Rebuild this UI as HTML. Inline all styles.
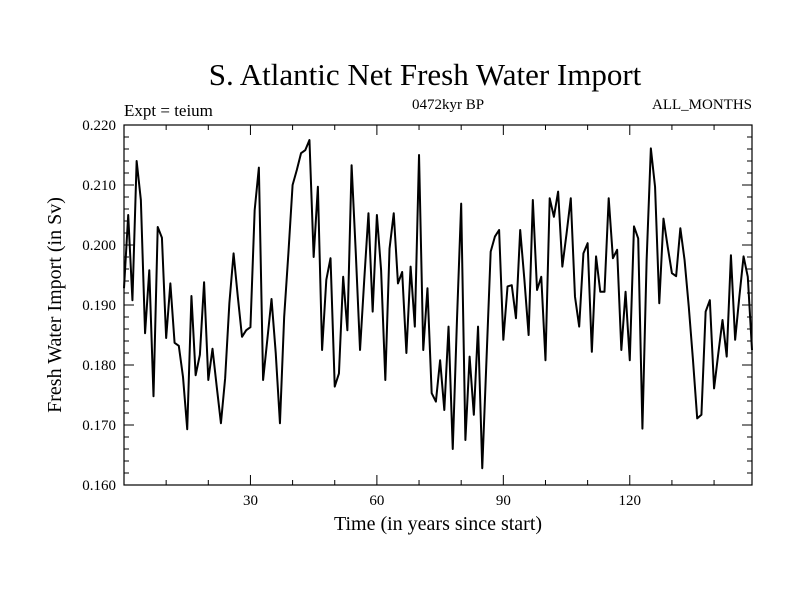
<!DOCTYPE html>
<html><head><meta charset="utf-8"><style>
body{margin:0;background:#fff;}
svg text{font-family:"Liberation Serif",serif;fill:#000;}
</style></head><body>
<svg id="c" width="800" height="600" xmlns="http://www.w3.org/2000/svg">
<text x="425" y="85" font-size="31" text-anchor="middle">S. Atlantic Net Fresh Water Import</text>
<text x="124" y="116" font-size="17">Expt = teium</text>
<text x="448" y="109" font-size="15" text-anchor="middle">0472kyr BP</text>
<text x="752" y="109" font-size="15" text-anchor="end">ALL_MONTHS</text>
<text x="438" y="530" font-size="20" text-anchor="middle">Time (in years since start)</text>
<text transform="translate(61,305) rotate(-90)" font-size="20" text-anchor="middle">Fresh Water Import (in Sv)</text>
<g id="axes"></g>
<path id="line" fill="none" stroke="#000" stroke-width="2" stroke-linejoin="round"></path>
<rect x="124" y="125" width="628" height="360" fill="none" stroke="#000" stroke-width="1.2"></rect>
</svg>
<script>
const values = [0.1928,0.205,0.1908,0.214,0.2075,0.1853,0.1958,0.1748,0.203,0.2012,0.1845,0.1936,0.1837,0.1832,0.178,0.1693,0.1915,0.1783,0.1817,0.1938,0.1775,0.1827,0.1764,0.1703,0.1778,0.1903,0.1986,0.1914,0.1847,0.1858,0.1863,0.2058,0.2129,0.1775,0.1842,0.191,0.182,
0.1703,0.188,0.1986,0.21,0.2125,0.2153,0.2158,0.2175,0.198,0.2097,0.1825,0.1942,0.1978,0.1764,0.1786,0.1947,0.1858,0.2133,0.1986,0.1825,0.1942,0.2053,0.1889,0.205,0.1958,0.1775,0.1994,0.2053,0.1936,0.1955,0.182,0.1964,0.1864,0.215,0.1825,0.1928,0.1753,0.1739,0.1808,0.1725,
0.1864,0.166,0.1875,0.2069,0.1675,0.1814,0.1717,0.1864,0.1628,0.1808,0.1989,0.2014,0.2025,0.1842,0.1931,0.1933,0.1878,0.2025,0.1942,0.185,0.2075,0.1925,0.1947,0.1808,0.2078,0.2047,0.2089,0.1964,0.2019,0.2078,0.1914,0.1864,0.1986,0.2003,0.1822,
0.1981,0.1922,0.1922,0.2078,0.1978,0.1992,0.1825,0.1922,0.1808,0.2031,0.2011,0.1694,0.1975,0.2161,0.2097,0.1903,0.2044,0.1997,0.1953,0.1948,0.2028,0.1975,0.1897,0.1808,0.1711,0.1717,0.1889,0.1908,0.1761,0.1819,0.1875,0.1814,0.1983,0.1842,0.1914,0.1981,0.1947,0.1825];
const xTicks = [30,60,90,120];
const yTicks = [0.160,0.170,0.180,0.190,0.200,0.210,0.220];
const xMin=0, xMax=149, yMin=0.16, yMax=0.22;
const L=124,R=752,T=125,B=485;
const sx=v=>L+(v-xMin)/(xMax-xMin)*(R-L);
const sy=v=>B-(v-yMin)/(yMax-yMin)*(B-T);
const NS="http://www.w3.org/2000/svg";
const g=document.getElementById('axes');
function ln(x1,y1,x2,y2,name){const e=document.createElementNS(NS,'line');e.setAttribute('x1',x1);e.setAttribute('y1',y1);e.setAttribute('x2',x2);e.setAttribute('y2',y2);e.setAttribute('stroke','#000');e.setAttribute('stroke-width','1');


g.appendChild(e);}
function tx(x,y,s,anchor,name){const e=document.createElementNS(NS,'text');e.setAttribute('x',x);e.setAttribute('y',y);e.setAttribute('font-size','15');e.setAttribute('text-anchor',anchor);e.textContent=s;


g.appendChild(e);}
for(let v=10;v<xMax;v+=10){const x=sx(v);const major=xTicks.includes(v);const l=major?10:5;
ln(x,B,x,B-l,'x-tick');ln(x,T,x,T+l,'x-tick-top');}
xTicks.forEach(v=>tx(sx(v),B+20,String(v),'middle','x-tick-label'));
for(let i=0;i<=30;i++){const v=yMin+i*0.002;const y=sy(v);const major=i%5===0;const l=major?10:5;
ln(L,y,L+l,y,'y-tick');ln(R,y,R-l,y,'y-tick-right');}
yTicks.forEach(v=>tx(L-8,sy(v)+5,v.toFixed(3),'end','y-tick-label'));
let d='';values.forEach((v,i)=>{d+=(i?'L':'M')+sx(i).toFixed(2)+' '+sy(v).toFixed(2);});
document.getElementById('line').setAttribute('d',d);
</script>
</body></html>
